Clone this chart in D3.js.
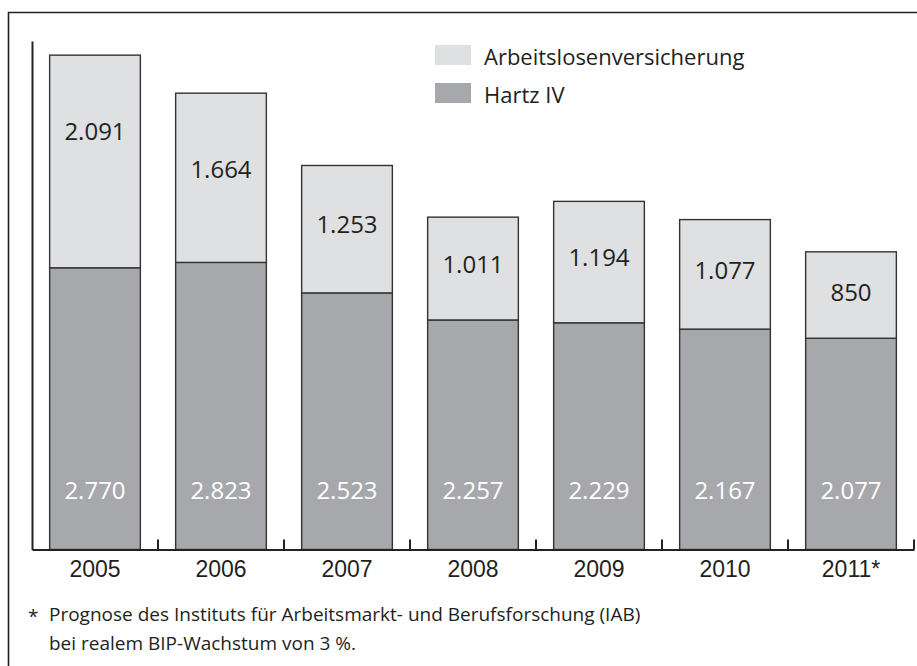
<!DOCTYPE html>
<html>
<head>
  <script src="https://d3js.org/d3.v7.min.js"></script>
  <style>
    body { margin: 0; background: #fff; }
    svg { font-family: "Open Sans", sans-serif; }
    .bar { stroke: #333; stroke-width: 1.4px; }
    .axis path, .axis line { stroke: #222; stroke-width: 2px; }
    .axis text { font-size: 23px; fill: #231f20; }
  </style>
</head>
<body>
<div id="chart"></div>
<script>
var years = ["2005", "2006", "2007", "2008", "2009", "2010", "2011*"];
var hartz = [2770, 2823, 2523, 2257, 2229, 2167, 2077];
var alv = [2091, 1664, 1253, 1011, 1194, 1077, 850];
var seriesNames = ["Arbeitslosenversicherung", "Hartz IV"];
var footnote = [
  "Prognose des Instituts für Arbeitsmarkt- und Berufsforschung (IAB)",
  "bei realem BIP-Wachstum von 3 %."
];

var width = 917;
var height = 666;
var colorLight = "#dfe0e2";
var colorDark = "#a7a8ab";
var textColor = "#231f20";

var svg = d3.select("#chart").append("svg")
  .attr("width", width)
  .attr("height", height);

/* frame */
svg.append("path")
  .attr("d", "M8.5,666 V12.5 H917")
  .attr("fill", "none")
  .attr("stroke", "#222")
  .attr("stroke-width", 1.6);

/* Scale */
var x = d3.scaleBand()
  .domain(years)
  .range([32, 914])
  .paddingInner(0.28)
  .paddingOuter(0.14);

var y = d3.scaleLinear()
  .domain([0, 5000])
  .range([549.5, 41]);

var data = years.map(function(d, i) {
  return { year: d, hartz: hartz[i], alv: alv[i] };
});

var fmt = d3.formatLocale({ decimal: ",", thousands: ".", grouping: [3], currency: ["", "€"] }).format(",d");

var groups = svg.selectAll(".year")
  .data(data).enter()
  .append("g")
  .attr("class", "year");

groups.append("rect")
  .attr("class", "bar")
  .attr("x", d => x(d.year))
  .attr("width", x.bandwidth())
  .attr("y", d => y(d.hartz))
  .attr("height", d => y(0) - y(d.hartz))
  .attr("fill", colorDark);

groups.append("rect")
  .attr("class", "bar")
  .attr("x", d => x(d.year))
  .attr("width", x.bandwidth())
  .attr("y", d => y(d.hartz + d.alv))
  .attr("height", d => y(d.hartz) - y(d.hartz + d.alv))
  .attr("fill", colorLight);

/* value labels */
groups.append("text")
  .attr("x", d => x(d.year) + x.bandwidth() / 2)
  .attr("y", function(d) {
    var top = y(d.hartz + d.alv);
    var half = (y(d.hartz) - top) / 2;
    return top + Math.min(76, half * 0.92) + 9;
  })
  .attr("text-anchor", "middle")
  .style("font-size", "24px")
  .style("fill", textColor)
  .text(d => fmt(d.alv));

groups.append("text")
  .attr("x", d => x(d.year) + x.bandwidth() / 2)
  .attr("y", y(0) - 51)
  .attr("text-anchor", "middle")
  .style("font-size", "24px")
  .style("fill", "#fff")
  .text(d => fmt(d.hartz));

/* axes */
svg.append("g")
  .attr("class", "axis")
  .attr("transform", "translate(32,0)")
  .call(d3.axisLeft(y).tickValues([]).tickSizeOuter(0));

var xAxis = svg.append("g")
  .attr("class", "axis")
  .attr("transform", `translate(0,${y(0)})`)
  .call(d3.axisBottom(x).tickSize(0).tickSizeOuter(0).tickPadding(7));
xAxis.selectAll("text").attr("dy", "0.9em");

var gap = x.step() * x.paddingInner() / 2;
var bounds = years.map(d => x(d) + x.bandwidth() + gap);
xAxis.selectAll(".bound")
  .data(bounds).enter()
  .append("line")
  .attr("class", "bound")
  .attr("x1", d => d).attr("x2", d => d)
  .attr("y1", 0).attr("y2", -10);

/* legend */
var legend = svg.selectAll(".legend")
  .data(seriesNames).enter()
  .append("g")
  .attr("class", "legend")
  .attr("transform", (d, i) => `translate(435,${45 + i * 38})`);

legend.append("rect")
  .attr("width", 36)
  .attr("height", 20)
  .attr("fill", (d, i) => i === 0 ? colorLight : colorDark);

legend.append("text")
  .attr("x", 49)
  .attr("y", 20)
  .style("font-size", "22px")
  .style("fill", textColor)
  .text(d => d);

/* footnote */
svg.append("text")
  .attr("x", 28)
  .attr("y", 623)
  .style("font-size", "19px")
  .style("fill", textColor)
  .text("*");

svg.selectAll(".note")
  .data(footnote).enter()
  .append("text")
  .attr("class", "note")
  .attr("x", 49)
  .attr("y", (d, i) => 621 + i * 29)
  .style("font-size", "19px")
  .style("fill", textColor)
  .text(d => d);
</script>
</body>
</html>
